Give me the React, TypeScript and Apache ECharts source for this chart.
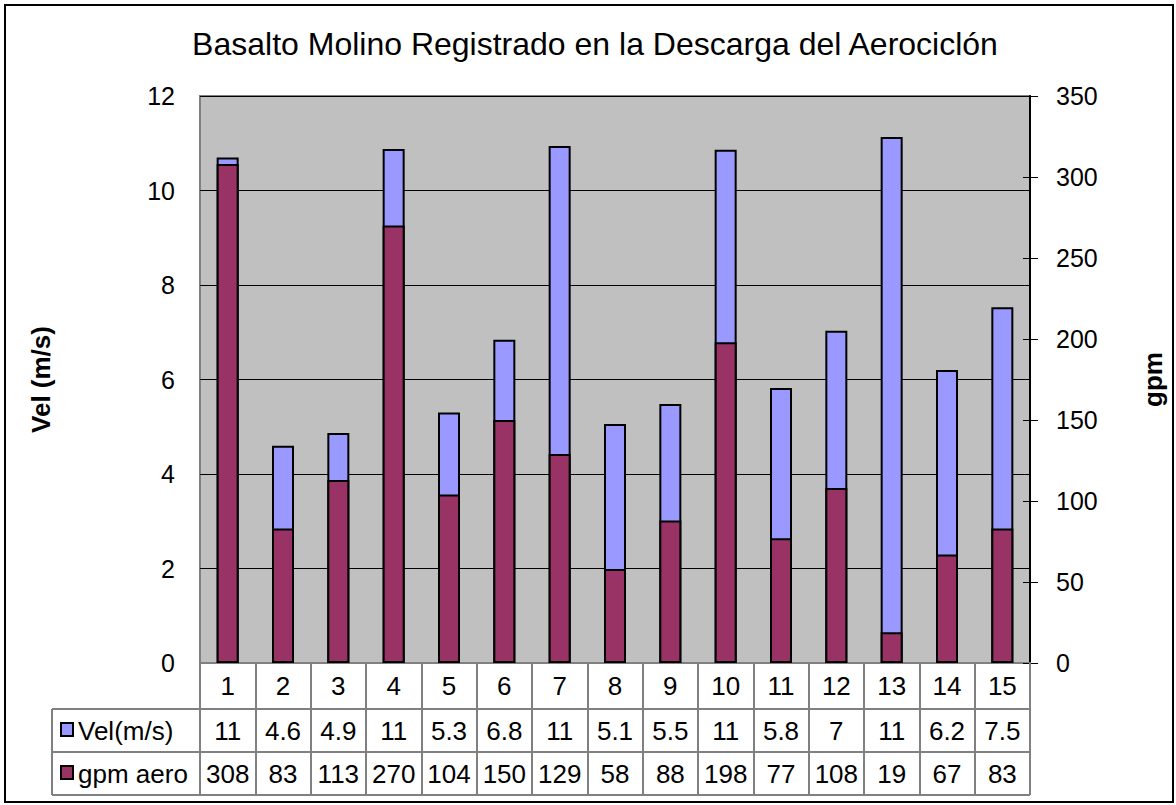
import React, { useEffect, useRef } from "react";
import * as echarts from "echarts";

const categories = ["1", "2", "3", "4", "5", "6", "7", "8", "9", "10", "11", "12", "13", "14", "15"];
const velValues = [10.7, 4.6, 4.87, 10.88, 5.3, 6.84, 10.94, 5.06, 5.48, 10.86, 5.82, 7.03, 11.13, 6.2, 7.53];
const gpmValues = [308, 83, 113, 270, 104, 150, 129, 58, 88, 198, 77, 108, 19, 67, 83];
const velName = "Vel(m/s)";
const gpmName = "gpm aero";
const titleText = "Basalto Molino Registrado en la Descarga del Aerociclón";

const velLabel = (v: number) => String(v >= 10 ? Math.round(v) : Math.round(v * 10) / 10);

const FONT = "Liberation Sans, Arial, sans-serif";
const TABLE_FS = 26;

export default function App() {
  const ref = useRef<HTMLDivElement>(null);
  useEffect(() => {
    document.body.style.margin = "0";
    const chart = echarts.init(ref.current!, null, { renderer: "svg" });
    const gray = "#808080";
    chart.setOption({
      animation: false,
      backgroundColor: "#fff",
      textStyle: { fontFamily: FONT },
      grid: {
        left: 200,
        right: 146,
        top: 96,
        bottom: 142,
        show: true,
        backgroundColor: "#C0C0C0",
        borderColor: gray,
        borderWidth: 2,
      },
      xAxis: {
        type: "category",
        data: categories,
        axisLine: { show: true, lineStyle: { color: gray, width: 2 } },
        axisTick: { show: true, length: 132, alignWithLabel: false, lineStyle: { color: gray, width: 2 } },
        axisLabel: {
          interval: 0,
          margin: 0,
          color: "#000",
          fontSize: TABLE_FS,
          fontFamily: FONT,
          formatter: (value: string, idx: number) =>
            `{a|${value}}\n{b|${velLabel(velValues[idx])}}\n{c|${gpmValues[idx]}}`,
          rich: {
            a: { lineHeight: 46, fontSize: TABLE_FS, fontFamily: FONT, color: "#000" },
            b: { lineHeight: 43, fontSize: TABLE_FS, fontFamily: FONT, color: "#000" },
            c: { lineHeight: 43, fontSize: TABLE_FS, fontFamily: FONT, color: "#000" },
          },
        },
      },
      yAxis: [
        {
          type: "value",
          min: 0,
          max: 12,
          interval: 2,
          position: "left",
          axisLine: { show: false },
          axisTick: { show: false },
          axisLabel: { margin: 25, fontSize: 25, color: "#000", fontFamily: FONT },
          splitLine: { show: true, lineStyle: { color: "#000", width: 1 } },
          name: "Vel (m/s)",
          nameLocation: "middle",
          nameGap: 146,
          nameRotate: 90,
          nameTextStyle: { fontSize: 26, fontWeight: "bold", color: "#000", fontFamily: FONT },
        },
        {
          type: "value",
          min: 0,
          max: 350,
          interval: 50,
          position: "right",
          axisLine: { show: true, lineStyle: { color: "#000", width: 2 } },
          axisTick: { show: true, length: 8, lineStyle: { color: "#000", width: 1 } },
          axisLabel: { margin: 26, fontSize: 25, color: "#000", fontFamily: FONT },
          splitLine: { show: false },
          name: "gpm",
          nameLocation: "middle",
          nameGap: 110,
          nameRotate: 90,
          nameTextStyle: { fontSize: 26, fontWeight: "bold", color: "#000", fontFamily: FONT },
        },
        {
          type: "value",
          min: 0,
          max: 350,
          interval: 50,
          position: "right",
          axisLine: { show: false },
          axisTick: { show: true, inside: true, length: 7, lineStyle: { color: "#000", width: 1 } },
          axisLabel: { show: false },
          splitLine: { show: false },
        },
      ],
      series: [
        {
          name: velName,
          type: "bar",
          yAxisIndex: 0,
          data: velValues,
          barWidth: 22,
          itemStyle: { color: "#9999FF", borderColor: "#000", borderWidth: 2 },
        },
        {
          name: gpmName,
          type: "bar",
          yAxisIndex: 1,
          data: gpmValues,
          barWidth: 22,
          barGap: "-100%",
          itemStyle: { color: "#993366", borderColor: "#000", borderWidth: 2 },
        },
      ],
      graphic: [
        {
          type: "rect",
          shape: { x: 5, y: 5, width: 1168, height: 797 },
          style: { fill: "none", stroke: "#000", lineWidth: 2 },
          silent: true,
        },
        {
          type: "text",
          x: 595,
          y: 44,
          style: { text: titleText, fontSize: 32, fontFamily: FONT, fill: "#000", align: "center", verticalAlign: "middle" },
        },
        { type: "line", shape: { x1: 52, y1: 709, x2: 1030, y2: 709 }, style: { stroke: gray, lineWidth: 2 } },
        { type: "line", shape: { x1: 52, y1: 752, x2: 1030, y2: 752 }, style: { stroke: gray, lineWidth: 2 } },
        { type: "line", shape: { x1: 52, y1: 795, x2: 1030, y2: 795 }, style: { stroke: gray, lineWidth: 2 } },
        { type: "line", shape: { x1: 52, y1: 709, x2: 52, y2: 795 }, style: { stroke: gray, lineWidth: 2 } },
        { type: "rect", shape: { x: 61, y: 723, width: 12, height: 13 }, style: { fill: "#9999FF", stroke: "#000", lineWidth: 2 } },
        { type: "rect", shape: { x: 61, y: 766, width: 12, height: 13 }, style: { fill: "#993366", stroke: "#000", lineWidth: 2 } },
        {
          type: "text",
          x: 78,
          y: 731,
          style: { text: velName, fontSize: TABLE_FS, fontFamily: FONT, fill: "#000", align: "left", verticalAlign: "middle" },
        },
        {
          type: "text",
          x: 78,
          y: 774,
          style: { text: gpmName, fontSize: TABLE_FS, fontFamily: FONT, fill: "#000", align: "left", verticalAlign: "middle" },
        },
      ],
    });
    return () => chart.dispose();
  }, []);
  return <div ref={ref} style={{ width: 1176, height: 805 }} />;
}
